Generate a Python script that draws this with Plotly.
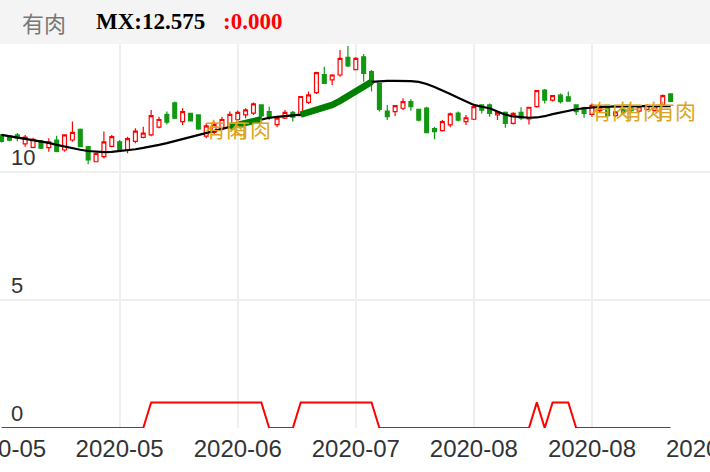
import plotly.graph_objects as go

# ---- data ----
tick_index = [0, 15, 30, 45, 60, 75, 90]
tick_labels = ["2020-05", "2020-05", "2020-06", "2020-07", "2020-08", "2020-08", "2020-09"]
y_ticks = [0, 5, 10]

open_ = [11.45, 11.40, 11.45, 11.10, 10.96, 11.22, 10.95, 11.25, 10.86, 11.25,
         11.67, 10.99, 10.40, 10.60, 11.00, 11.18, 10.85, 11.20, 11.35, 11.45,
         11.75, 12.25, 12.70, 11.97, 12.29, 12.23, 11.40, 11.55, 11.70, 11.75,
         12.05, 12.23, 12.30, 12.62, 12.36, 11.85, 12.10, 12.33, 12.20, 12.72,
         13.10, 13.80, 13.60, 13.79, 14.48, 14.00, 14.50, 13.92, 13.46, 12.38,
         12.36, 12.49, 12.75, 12.45, 12.50, 11.70, 11.62, 11.84, 12.30, 11.97,
         12.06, 12.62, 12.62, 12.23, 12.33, 11.90, 12.33, 12.07, 12.55, 13.20,
         12.81, 13.00, 12.94, 12.62, 12.51, 12.25, 12.40, 12.60, 12.20, 12.45,
         12.50, 12.38, 12.45, 12.40, 12.62, 13.05]
high = [11.48, 11.43, 11.52, 11.45, 11.34, 11.25, 11.32, 11.42, 11.47, 11.97,
        11.70, 11.02, 10.76, 11.58, 11.45, 11.25, 11.38, 11.71, 11.77, 12.42,
        12.16, 12.36, 12.75, 12.49, 12.30, 12.25, 11.90, 11.97, 12.16, 12.36,
        12.40, 12.49, 12.71, 12.64, 12.55, 12.16, 12.42, 12.38, 12.97, 13.14,
        13.92, 14.11, 13.82, 14.77, 14.92, 14.48, 14.61, 13.98, 13.48, 12.62,
        12.62, 12.88, 12.84, 12.47, 12.55, 11.77, 12.03, 12.32, 12.36, 12.23,
        12.58, 12.64, 12.68, 12.36, 12.36, 12.33, 12.53, 12.55, 13.20, 13.24,
        13.00, 13.07, 13.14, 12.64, 12.55, 12.68, 12.55, 12.62, 12.38, 12.50,
        12.55, 12.60, 12.65, 12.62, 13.03, 13.07]
low = [11.15, 11.20, 11.20, 10.99, 10.93, 10.90, 10.79, 10.77, 10.79, 11.18,
       10.97, 10.30, 10.38, 10.53, 10.97, 10.79, 10.73, 11.12, 11.32, 11.40,
       11.71, 11.86, 12.07, 11.84, 11.97, 11.64, 11.32, 11.45, 11.64, 11.71,
       12.00, 12.10, 12.23, 12.10, 12.03, 11.75, 12.07, 11.97, 12.19, 12.66,
       13.05, 13.46, 13.40, 13.72, 14.10, 13.98, 13.53, 13.14, 12.36, 12.03,
       12.19, 12.42, 12.39, 11.97, 11.51, 11.28, 11.58, 11.75, 11.97, 11.84,
       12.03, 12.29, 12.16, 12.03, 11.73, 11.86, 12.03, 11.86, 12.51, 12.68,
       12.75, 12.68, 12.75, 12.23, 12.12, 12.16, 12.30, 12.16, 12.15, 12.28,
       12.35, 12.32, 12.40, 12.36, 12.58, 12.72]
close = [11.20, 11.24, 11.32, 11.36, 11.28, 10.93, 11.18, 10.80, 11.45, 11.55,
         10.99, 10.47, 10.73, 11.18, 11.38, 10.86, 11.30, 11.60, 11.52, 12.20,
         12.05, 11.95, 12.10, 12.36, 12.00, 11.68, 11.80, 11.85, 12.05, 12.25,
         12.33, 12.43, 12.66, 12.19, 12.10, 12.10, 12.33, 12.14, 12.95, 13.01,
         13.88, 13.46, 13.79, 14.44, 14.14, 14.44, 13.85, 13.46, 12.45, 12.16,
         12.59, 12.75, 12.55, 12.03, 11.54, 11.58, 11.97, 12.27, 12.03, 12.12,
         12.55, 12.42, 12.29, 12.33, 11.90, 12.29, 12.10, 12.53, 13.18, 12.81,
         12.98, 12.75, 12.77, 12.36, 12.29, 12.60, 12.50, 12.20, 12.35, 12.32,
         12.40, 12.55, 12.60, 12.58, 12.98, 12.76]
mx = [11.45, 11.40, 11.35, 11.30, 11.25, 11.20, 11.14, 11.06, 10.99, 10.93,
      10.87, 10.82, 10.79, 10.78, 10.79, 10.82, 10.85, 10.89, 10.94, 10.99,
      11.06, 11.13, 11.21, 11.29, 11.37, 11.46, 11.55, 11.62, 11.70, 11.77,
      11.84, 11.90, 11.98, 12.06, 12.12, 12.15, 12.18, 12.21, 12.24, 12.32,
      12.41, 12.49, 12.62, 12.78, 12.97, 13.18, 13.38, 13.52, 13.55, 13.56,
      13.56, 13.56, 13.55, 13.52, 13.44, 13.32, 13.20, 13.05, 12.90, 12.75,
      12.62, 12.55, 12.49, 12.36, 12.24, 12.17, 12.14, 12.12, 12.13, 12.18,
      12.26, 12.33, 12.40, 12.45, 12.49, 12.52, 12.54, 12.55, 12.56, 12.56,
      12.57, 12.57, 12.57, 12.58, 12.58, 12.575]
strong = [0, 0, 0, 0, 0, 0, 0, 0, 0, 0,
          0, 0, 0, 0, 0, 0, 0, 0, 0, 0,
          0, 0, 0, 0, 0, 0, 0, 0, 0, 1,
          1, 1, 1, 1, 0, 0, 0, 0, 1, 1,
          1, 1, 1, 1, 1, 1, 1, 1, 0, 0,
          0, 0, 0, 0, 0, 0, 0, 0, 0, 0,
          0, 0, 0, 0, 0, 0, 0, 0, 0, 0,
          0, 0, 0, 0, 0, 0, 0, 0, 0, 0,
          0, 0, 0, 0, 0, 0]
signal = [0, 0, 0, 0, 0, 0, 0, 0, 0, 0,
          0, 0, 0, 0, 0, 0, 0, 0, 0, 1,
          1, 1, 1, 1, 1, 1, 1, 1, 1, 1,
          1, 1, 1, 1, 0, 0, 0, 0, 1, 1,
          1, 1, 1, 1, 1, 1, 1, 1, 0, 0,
          0, 0, 0, 0, 0, 0, 0, 0, 0, 0,
          0, 0, 0, 0, 0, 0, 0, 0, 1, 0,
          1, 1, 1, 0, 0, 0, 0, 0, 0, 0,
          0, 0, 0, 0, 0, 0]
label_index = [26, 29, 75, 79, 83]
label_value = [11.70, 11.70, 12.42, 12.42, 12.42]
label_text = "有肉"

idx = list(range(len(close)))

RED = "#FF0000"
GREEN = "#129812"
AXIS_FONT = dict(family="Liberation Sans", size=24, color="#333333")

fig = go.Figure()
fig.add_trace(go.Candlestick(
    x=idx, open=open_, high=high, low=low, close=close,
    increasing=dict(line=dict(color=RED, width=1.2), fillcolor="white"),
    decreasing=dict(line=dict(color=GREEN, width=1.2), fillcolor=GREEN),
    whiskerwidth=0, hoverinfo="skip"))
fig.add_trace(go.Scatter(x=idx, y=mx, mode="lines",
                         line=dict(color="black", width=2.2), hoverinfo="skip"))
fig.add_trace(go.Scatter(x=idx, y=[m if s else None for m, s in zip(mx, strong)],
                         mode="lines", connectgaps=False,
                         line=dict(color="#008000", width=6.5), hoverinfo="skip"))
fig.add_trace(go.Scatter(x=idx, y=signal, mode="lines",
                         line=dict(color=RED, width=2), hoverinfo="skip"))

for li, lv in zip(label_index, label_value):
    fig.add_annotation(x=li, y=lv, text=label_text, showarrow=False,
                       xanchor="left", yanchor="middle", xshift=-3,
                       font=dict(family="Noto Sans CJK SC", size=21, color="#DAA520"))

# first category label sits on the left edge (half cut off, as in the reference)
fig.add_annotation(x=tick_index[0], xref="x", y=0, yref="paper", yanchor="top",
                   xanchor="center", yshift=-5, showarrow=False,
                   text=tick_labels[0], font=AXIS_FONT)

# header band
PLOT_H = 384.0
def py(px):
    return (428.0 - px) / PLOT_H

fig.add_shape(type="rect", xref="paper", yref="paper", x0=0, x1=1, y0=1, y1=py(0),
              fillcolor="#F4F4F4", line=dict(width=0), layer="below")
fig.add_annotation(xref="paper", yref="paper", x=20 / 710, y=py(22), xanchor="left",
                   yanchor="middle", showarrow=False, text="有肉",
                   font=dict(family="Noto Sans CJK SC", size=22, color="#777777"))
fig.add_annotation(xref="paper", yref="paper", x=94 / 710, y=py(22), xanchor="left",
                   yanchor="middle", showarrow=False, text="<b>MX:12.575</b>",
                   font=dict(family="Liberation Serif", size=23, color="#000000"))
fig.add_annotation(xref="paper", yref="paper", x=221 / 710, y=py(22), xanchor="left",
                   yanchor="middle", showarrow=False, text="<b>:0.000</b>",
                   font=dict(family="Liberation Serif", size=23, color=RED))

fig.update_layout(
    width=710, height=472,
    margin=dict(l=0, r=0, t=44, b=44, autoexpand=False),
    paper_bgcolor="white", plot_bgcolor="white",
    showlegend=False,
    boxgap=0.3,
    xaxis=dict(range=[-0.2, 90], tickmode="array", tickvals=tick_index, ticktext=tick_labels,
               showgrid=True, gridcolor="#EFEFEF", gridwidth=2, zeroline=False,
               showline=False, ticks="", rangeslider=dict(visible=False),
               ticklabeloverflow="allow", automargin=False, ticklabelstandoff=4,
               tickfont=AXIS_FONT),
    yaxis=dict(range=[0, 15], tickmode="array", tickvals=y_ticks,
               showgrid=True, gridcolor="#EFEFEF", gridwidth=2, zeroline=False,
               showline=False, ticks="", ticklabelposition="inside",
               ticklabelstandoff=8, ticklabelshift=-15, automargin=False,
               tickfont=dict(family="Liberation Sans", size=22, color="#333333")),
)

fig.write_html("out.html", config={"displayModeBar": False},
               post_script="document.body.style.margin='0';document.body.style.overflow='hidden';")
